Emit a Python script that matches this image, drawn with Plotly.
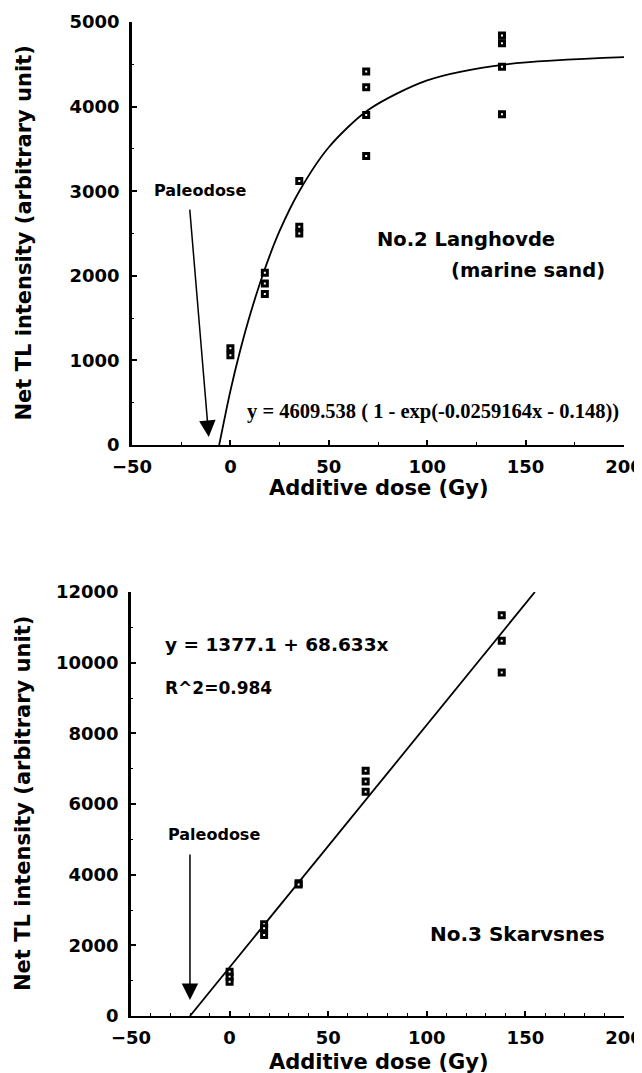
import plotly.graph_objects as go

# ---------------- data ----------------
# Top panel: No.2 Langhovde (marine sand)
top_dose = [0, 0, 17.5, 17.5, 17.5, 35, 35, 35, 69, 69, 69, 69, 138, 138, 138, 138]
top_tl = [1145, 1060, 2035, 1910, 1785, 3120, 2580, 2500,
          4415, 4230, 3900, 3415, 4840, 4750, 4470, 3910]
top_fit_dose = [-5.7, 0, 5, 10, 17.5, 25, 35, 50, 70, 100, 140, 200]
top_fit_tl = [0, 640, 1120, 1540, 2080, 2530, 3000, 3520, 3960, 4310, 4500, 4585]
top_arrow_tail = [-20.7, 2800]
top_arrow_head = [-11, 95]

# Bottom panel: No.3 Skarvsnes
bot_dose = [0, 0, 0, 17.5, 17.5, 17.5, 35, 35, 69, 69, 69, 138, 138, 138]
bot_tl = [1250, 1110, 970, 2600, 2480, 2290, 3760, 3720,
          6940, 6640, 6350, 11340, 10620, 9720]
bot_fit_dose = [-20.1, 154.8]
bot_fit_tl = [0, 12000]
bot_arrow_tail = [-20.1, 4614]
bot_arrow_head = [-20.1, 453]

x_ticks = [-50, 0, 50, 100, 150, 200]
top_y_ticks = [0, 1000, 2000, 3000, 4000, 5000]
bot_y_ticks = [0, 2000, 4000, 6000, 8000, 10000, 12000]

# page body adds an 8px offset; figure sized to fill the rest of the window
OFF = 8
W, H = 642 - OFF, 1073 - OFF

def px(x):
    return (x - OFF) / W

def py(y):
    return 1 - (y - OFF) / H

BOLD = "DejaVu Sans"
marker = dict(symbol="square", size=5, color="white", line=dict(color="black", width=3))

fig = go.Figure()
fig.add_trace(go.Scatter(x=top_fit_dose, y=top_fit_tl, mode="lines",
                         line=dict(color="black", width=1.8, shape="spline", smoothing=0.8),
                         xaxis="x", yaxis="y", hoverinfo="skip"))
fig.add_trace(go.Scatter(x=top_dose, y=top_tl, mode="markers", marker=marker,
                         xaxis="x", yaxis="y"))
fig.add_trace(go.Scatter(x=bot_fit_dose, y=bot_fit_tl, mode="lines",
                         line=dict(color="black", width=1.8),
                         xaxis="x2", yaxis="y2", hoverinfo="skip"))
fig.add_trace(go.Scatter(x=bot_dose, y=bot_tl, mode="markers", marker=marker,
                         xaxis="x2", yaxis="y2"))

tickfont = dict(family=BOLD, size=18, color="black", weight="bold")

def xax(domain, anchor, minor_dtick):
    return dict(domain=domain, anchor=anchor, range=[-50, 200], tickvals=x_ticks,
                automargin=False, ticklabeloverflow="allow",
                showline=True, linecolor="black", linewidth=2, showgrid=False, zeroline=False,
                ticks="inside", ticklen=5, tickwidth=1.5, tickcolor="black",
                minor=dict(ticks="inside", ticklen=3, tickwidth=1.2, tickcolor="black",
                           dtick=minor_dtick, tick0=0, showgrid=False),
                tickformat="d",
                tickfont=tickfont, ticklabelstandoff=4)

def yax(domain, anchor, rng, vals, minor_dtick):
    return dict(domain=domain, anchor=anchor, range=rng, tickvals=vals,
                automargin=False, ticklabeloverflow="allow",
                showline=True, linecolor="black", linewidth=2.5, showgrid=False, zeroline=False,
                ticks="inside", ticklen=5, tickwidth=1.5, tickcolor="black",
                minor=dict(ticks="inside", ticklen=2, tickwidth=1.2, tickcolor="black",
                           dtick=minor_dtick, tick0=0, showgrid=False),
                tickformat="d",
                tickfont=tickfont, ticklabelstandoff=6)

fig.update_layout(
    template="none",
    width=W, height=H, autosize=False,
    margin=dict(l=0, r=0, t=0, b=0, pad=0),
    paper_bgcolor="white", plot_bgcolor="white",
    showlegend=False,
    xaxis=xax([px(132), px(624)], "y", 25),
    yaxis=yax([py(445), py(22)], "x", [0, 5000], top_y_ticks, 500),
    xaxis2=xax([px(131), px(624)], "y2", 10),
    yaxis2=yax([py(1016), py(592)], "x2", [0, 12000], bot_y_ticks, 1000),
)

ann = []
title_font = dict(family=BOLD, size=21, color="black", weight="bold")
# axis titles
ann.append(dict(text="Net TL intensity (arbitrary unit)", xref="paper", yref="paper",
                x=px(23), y=py(233.5), xanchor="center", yanchor="middle",
                textangle=-90, showarrow=False, font=title_font))
ann.append(dict(text="Net TL intensity (arbitrary unit)", xref="paper", yref="paper",
                x=px(23), y=py(804), xanchor="center", yanchor="middle",
                textangle=-90, showarrow=False, font=title_font))
ann.append(dict(text="Additive dose (Gy)", xref="paper", yref="paper",
                x=px(379), y=py(488), xanchor="center", yanchor="middle",
                showarrow=False, font=title_font))
ann.append(dict(text="Additive dose (Gy)", xref="paper", yref="paper",
                x=px(379), y=py(1062), xanchor="center", yanchor="middle",
                showarrow=False, font=title_font))

lab_font = dict(family=BOLD, size=19.5, color="black", weight="bold")
small_font = dict(family=BOLD, size=16, color="black", weight="bold")
# top panel texts
ann.append(dict(text="No.2 Langhovde", xref="x", yref="y", x=73.3, y=2429,
                xanchor="left", yanchor="middle", showarrow=False, font=lab_font))
ann.append(dict(text="(marine sand)", xref="x", yref="y", x=191.2, y=2068,
                xanchor="right", yanchor="middle", showarrow=False, font=lab_font))
ann.append(dict(text="y = 4609.538 ( 1 - exp(-0.0259164x - 0.148))", xref="x", yref="y",
                x=7.3, y=391, xanchor="left", yanchor="middle", showarrow=False,
                font=dict(family="Liberation Serif", size=20.5, color="black", weight="bold")))
ann.append(dict(text="Paleodose", xref="x", yref="y", x=-40, y=3009,
                xanchor="left", yanchor="middle", showarrow=False, font=small_font))
ann.append(dict(text="", xref="x", yref="y", x=top_arrow_head[0], y=top_arrow_head[1],
                axref="x", ayref="y", ax=top_arrow_tail[0], ay=top_arrow_tail[1],
                showarrow=True, arrowhead=2, arrowsize=2.2, arrowwidth=1.5, arrowcolor="black"))
# bottom panel texts
ann.append(dict(text="y = 1377.1 + 68.633x", xref="x2", yref="y2", x=-33.8, y=10501,
                xanchor="left", yanchor="middle", showarrow=False,
                font=dict(family=BOLD, size=18.5, color="black", weight="bold")))
ann.append(dict(text="R^2=0.984", xref="x2", yref="y2", x=-33.8, y=9284,
                xanchor="left", yanchor="middle", showarrow=False,
                font=dict(family=BOLD, size=17, color="black", weight="bold")))
ann.append(dict(text="No.3 Skarvsnes", xref="x2", yref="y2", x=100.6, y=2307,
                xanchor="left", yanchor="middle", showarrow=False,
                font=dict(family=BOLD, size=20, color="black", weight="bold")))
ann.append(dict(text="Paleodose", xref="x2", yref="y2", x=-32.3, y=5151,
                xanchor="left", yanchor="middle", showarrow=False, font=small_font))
ann.append(dict(text="", xref="x2", yref="y2", x=bot_arrow_head[0], y=bot_arrow_head[1],
                axref="x2", ayref="y2", ax=bot_arrow_tail[0], ay=bot_arrow_tail[1],
                showarrow=True, arrowhead=2, arrowsize=2.2, arrowwidth=1.5, arrowcolor="black"))
fig.update_layout(annotations=ann)

fig.write_html("out.html")
